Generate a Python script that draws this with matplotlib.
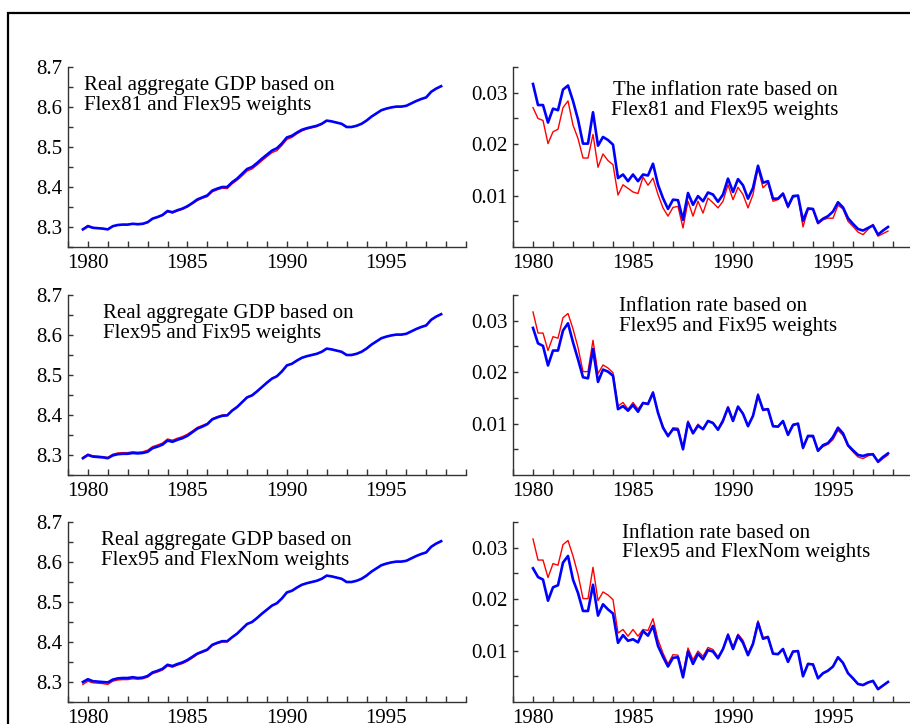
import numpy as np
import matplotlib
matplotlib.use("Agg")
import matplotlib.pyplot as plt
from matplotlib.patches import Rectangle
from matplotlib.ticker import MultipleLocator

plt.rcParams['font.family'] = ['Liberation Serif', 'DejaVu Serif']

# quarterly dates
gdp_dates = np.arange(1979.75, 1997.76, 0.25)   # 73 quarters
infl_dates = np.arange(1980.0, 1997.76, 0.25)   # 72 quarters

# log real aggregate GDP
gdp_flex95 = [8.294, 8.302, 8.298, 8.297, 8.296, 8.294, 8.302, 8.305, 8.306, 8.306,
              8.308, 8.307, 8.308, 8.312, 8.321, 8.325, 8.330, 8.340, 8.337, 8.342,
              8.346, 8.352, 8.360, 8.369, 8.374, 8.379, 8.391, 8.396, 8.400, 8.400,
              8.412, 8.421, 8.433, 8.445, 8.450, 8.460, 8.471, 8.481, 8.491, 8.497,
              8.509, 8.524, 8.528, 8.536, 8.543, 8.547, 8.550, 8.553, 8.558, 8.566,
              8.564, 8.561, 8.558, 8.550, 8.550, 8.553, 8.558, 8.566, 8.576, 8.584,
              8.592, 8.596, 8.599, 8.601, 8.601, 8.603, 8.609, 8.615, 8.620, 8.624,
              8.638, 8.646, 8.652]
gdp_flex81 = [8.295, 8.304, 8.299, 8.297, 8.296, 8.295, 8.302, 8.305, 8.306, 8.306,
              8.308, 8.306, 8.307, 8.311, 8.320, 8.324, 8.329, 8.338, 8.335, 8.340,
              8.344, 8.350, 8.358, 8.366, 8.372, 8.376, 8.388, 8.393, 8.397, 8.396,
              8.408, 8.417, 8.428, 8.440, 8.445, 8.455, 8.466, 8.476, 8.486, 8.491,
              8.504, 8.519, 8.524, 8.533, 8.540, 8.545, 8.548, 8.551, 8.557, 8.565,
              8.564, 8.561, 8.558, 8.550, 8.550, 8.553, 8.558, 8.566, 8.576, 8.584,
              8.592, 8.596, 8.599, 8.601, 8.601, 8.603, 8.609, 8.615, 8.620, 8.624,
              8.638, 8.646, 8.652]
gdp_fix95 = [8.292, 8.300, 8.296, 8.295, 8.294, 8.292, 8.299, 8.302, 8.303, 8.303,
             8.305, 8.304, 8.305, 8.308, 8.317, 8.321, 8.326, 8.336, 8.333, 8.338,
             8.342, 8.348, 8.357, 8.366, 8.371, 8.377, 8.389, 8.394, 8.398, 8.399,
             8.411, 8.420, 8.432, 8.444, 8.449, 8.459, 8.470, 8.481, 8.491, 8.497,
             8.509, 8.524, 8.528, 8.536, 8.543, 8.547, 8.550, 8.553, 8.558, 8.566,
             8.564, 8.561, 8.558, 8.550, 8.550, 8.553, 8.558, 8.566, 8.576, 8.584,
             8.592, 8.596, 8.599, 8.601, 8.601, 8.603, 8.609, 8.615, 8.620, 8.624,
             8.638, 8.646, 8.652]
gdp_flexnom = [8.300, 8.307, 8.302, 8.301, 8.300, 8.299, 8.306, 8.309, 8.310, 8.310,
               8.312, 8.310, 8.311, 8.315, 8.324, 8.328, 8.333, 8.343, 8.340, 8.345,
               8.349, 8.355, 8.363, 8.371, 8.376, 8.381, 8.393, 8.398, 8.402, 8.402,
               8.412, 8.421, 8.433, 8.445, 8.450, 8.460, 8.471, 8.481, 8.491, 8.497,
               8.509, 8.524, 8.528, 8.536, 8.543, 8.547, 8.550, 8.553, 8.558, 8.566,
               8.564, 8.561, 8.558, 8.550, 8.550, 8.553, 8.558, 8.566, 8.576, 8.584,
               8.592, 8.596, 8.599, 8.601, 8.601, 8.603, 8.609, 8.615, 8.620, 8.624,
               8.638, 8.646, 8.652]

# quarterly inflation rates
infl_flex95 = [0.0317, 0.0276, 0.0276, 0.0242, 0.0269, 0.0266, 0.0306, 0.0314, 0.0284, 0.0248,
               0.0201, 0.0201, 0.0262, 0.0197, 0.0214, 0.0208, 0.0199, 0.0134, 0.0141, 0.0128,
               0.0141, 0.0128, 0.0141, 0.0139, 0.0162, 0.0121, 0.0095, 0.0074, 0.0092, 0.0091,
               0.0053, 0.0105, 0.0082, 0.0099, 0.0089, 0.0106, 0.0102, 0.0088, 0.0102, 0.0133,
               0.0107, 0.0132, 0.0120, 0.0094, 0.0115, 0.0158, 0.0125, 0.0128, 0.0094, 0.0094,
               0.0104, 0.0079, 0.0099, 0.0100, 0.0051, 0.0075, 0.0074, 0.0047, 0.0055, 0.0060,
               0.0069, 0.0087, 0.0077, 0.0056, 0.0045, 0.0035, 0.0032, 0.0037, 0.0042, 0.0024,
               0.0032, 0.0039]
infl_flex81 = [0.0271, 0.0250, 0.0246, 0.0201, 0.0224, 0.0229, 0.0271, 0.0284, 0.0237, 0.0211,
               0.0173, 0.0173, 0.0219, 0.0155, 0.0181, 0.0168, 0.0160, 0.0101, 0.0121, 0.0114,
               0.0107, 0.0104, 0.0136, 0.0120, 0.0134, 0.0102, 0.0076, 0.0060, 0.0077, 0.0079,
               0.0037, 0.0089, 0.0060, 0.0089, 0.0066, 0.0095, 0.0086, 0.0076, 0.0089, 0.0121,
               0.0092, 0.0116, 0.0102, 0.0076, 0.0102, 0.0154, 0.0115, 0.0125, 0.0089, 0.0092,
               0.0102, 0.0076, 0.0097, 0.0099, 0.0039, 0.0073, 0.0073, 0.0045, 0.0053, 0.0056,
               0.0056, 0.0081, 0.0074, 0.0050, 0.0040, 0.0029, 0.0024, 0.0034, 0.0044, 0.0021,
               0.0026, 0.0031]
infl_fix95 = [0.0286, 0.0256, 0.0251, 0.0213, 0.0242, 0.0242, 0.0281, 0.0295, 0.0258, 0.0225,
              0.0190, 0.0188, 0.0245, 0.0181, 0.0205, 0.0201, 0.0193, 0.0128, 0.0134, 0.0125,
              0.0136, 0.0123, 0.0140, 0.0138, 0.0160, 0.0121, 0.0092, 0.0076, 0.0089, 0.0088,
              0.0050, 0.0102, 0.0081, 0.0096, 0.0089, 0.0105, 0.0101, 0.0088, 0.0106, 0.0131,
              0.0105, 0.0133, 0.0119, 0.0095, 0.0115, 0.0155, 0.0127, 0.0128, 0.0095, 0.0094,
              0.0105, 0.0078, 0.0097, 0.0100, 0.0053, 0.0076, 0.0076, 0.0047, 0.0058, 0.0062,
              0.0074, 0.0092, 0.0081, 0.0058, 0.0048, 0.0039, 0.0037, 0.0040, 0.0040, 0.0026,
              0.0035, 0.0042]
infl_flexnom = [0.0260, 0.0243, 0.0238, 0.0197, 0.0223, 0.0227, 0.0271, 0.0284, 0.0238, 0.0212,
                0.0177, 0.0177, 0.0228, 0.0168, 0.0190, 0.0180, 0.0172, 0.0115, 0.0130, 0.0119,
                0.0122, 0.0116, 0.0138, 0.0129, 0.0148, 0.0109, 0.0088, 0.0069, 0.0086, 0.0087,
                0.0048, 0.0098, 0.0074, 0.0094, 0.0083, 0.0101, 0.0098, 0.0085, 0.0103, 0.0130,
                0.0103, 0.0129, 0.0115, 0.0091, 0.0113, 0.0154, 0.0123, 0.0126, 0.0094, 0.0093,
                0.0103, 0.0078, 0.0098, 0.0099, 0.0050, 0.0074, 0.0073, 0.0046, 0.0056, 0.0061,
                0.0069, 0.0087, 0.0076, 0.0056, 0.0046, 0.0035, 0.0033, 0.0038, 0.0041, 0.0025,
                0.0032, 0.0039]

gdp_panels = [
    (gdp_flex81, gdp_flex95, "Real aggregate GDP based on\nFlex81 and Flex95 weights", 0.04),
    (gdp_flex95, gdp_fix95, "Real aggregate GDP based on\nFlex95 and Fix95 weights", 0.088),
    (gdp_flex95, gdp_flexnom, "Real aggregate GDP based on\nFlex95 and FlexNom weights", 0.083),
]
infl_panels = [
    (infl_flex81, infl_flex95, "The inflation rate based on\nFlex81 and Flex95 weights", 0.53, "center"),
    (infl_flex95, infl_fix95, "Inflation rate based on\nFlex95 and Fix95 weights", 0.265, "left"),
    (infl_flex95, infl_flexnom, "Inflation rate based on\nFlex95 and FlexNom weights", 0.272, "left"),
]

W, H = 910, 724
fig = plt.figure(figsize=(W / 100, H / 100), dpi=100)

# outer frame (runs off the right and bottom of the picture)
fig.patches.append(Rectangle((8 / W, -0.2), 1.3, 1.2 - 13 / H, transform=fig.transFigure,
                             fill=False, edgecolor='black', linewidth=1.6))

row_tops = [67, 295, 522]
row_h = 180
left_x, left_w = 68, 398
right_x, right_w = 513, 400

tick_color = '#333333'


def style(ax):
    for s in ['top', 'right']:
        ax.spines[s].set_visible(False)
    for s in ['left', 'bottom']:
        ax.spines[s].set_color(tick_color)
        ax.spines[s].set_linewidth(1.0)
    ax.tick_params(which='both', direction='in', colors=tick_color, labelcolor='black',
                   labelsize=15, width=1.0)
    ax.tick_params(axis='y', which='both', length=3.5, pad=4)
    ax.tick_params(axis='x', which='both', length=4, pad=5)
    ax.set_xlim(1979, 1999)
    ax.xaxis.set_major_locator(MultipleLocator(5))
    ax.xaxis.set_minor_locator(MultipleLocator(1))
    ax.xaxis.set_major_formatter(matplotlib.ticker.FormatStrFormatter('%d'))


for i, top in enumerate(row_tops):
    bottom = 1 - (top + row_h) / H
    h = row_h / H

    # GDP panel
    ax = fig.add_axes([left_x / W, bottom, left_w / W, h])
    red, blue, label, tx = gdp_panels[i]
    ax.plot(gdp_dates, red, color='#ff0000', linewidth=1.0)
    ax.plot(gdp_dates, blue, color='#0000ff', linewidth=1.9)
    style(ax)
    ax.set_ylim(8.25, 8.7)
    ax.yaxis.set_major_locator(MultipleLocator(0.1))
    ax.yaxis.set_minor_locator(MultipleLocator(0.05))
    ax.yaxis.set_major_formatter(matplotlib.ticker.FormatStrFormatter('%.1f'))
    ax.text(tx, 0.95, label, transform=ax.transAxes, fontsize=15, va='top', ha='left',
            linespacing=1.05)

    # inflation panel
    ax = fig.add_axes([right_x / W, bottom, right_w / W, h])
    red, blue, label, tx, ha = infl_panels[i]
    ax.plot(infl_dates, red, color='#ff0000', linewidth=1.0)
    ax.plot(infl_dates, blue, color='#0000ff', linewidth=1.9)
    style(ax)
    ax.set_ylim(0, 0.035)
    ax.set_yticks([0.01, 0.02, 0.03])
    ax.set_yticks([0.005, 0.015, 0.025, 0.035], minor=True)
    ax.set_yticklabels(['0.01', '0.02', '0.03'])
    ax.text(tx, 0.92 if i == 0 else 0.99, label, transform=ax.transAxes, fontsize=15,
            va='top', ha=ha, multialignment='center' if ha == 'center' else 'left',
            linespacing=1.05)

fig.savefig('out.png', dpi=100)
